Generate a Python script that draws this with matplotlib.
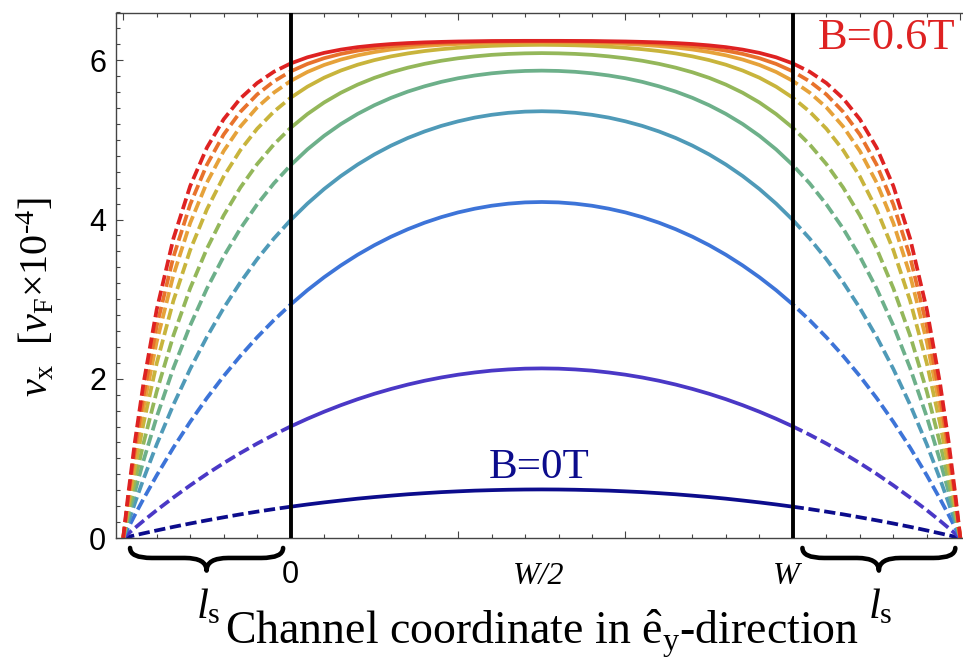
import matplotlib
matplotlib.use('Agg')
import matplotlib.pyplot as plt
import numpy as np
from matplotlib.path import Path
from matplotlib.patches import PathPatch
from matplotlib.ticker import MultipleLocator
import matplotlib.transforms as mtransforms

plt.rcParams['mathtext.fontset'] = 'custom'
plt.rcParams['mathtext.rm'] = 'Liberation Serif'
plt.rcParams['mathtext.it'] = 'Liberation Serif:italic'
plt.rcParams['mathtext.bf'] = 'Liberation Serif:bold'

# ---------------- data (channel width W = 3, slip length l_s = 1) ----------------
W = 3.0
ls = 1.0
# x positions in the slip (dashed) region left of the channel, and inside the channel up to W/2
x_edge = [-1.0, -0.97, -0.93, -0.88, -0.8, -0.7, -0.6, -0.5, -0.4, -0.3, -0.2, -0.1, 0.0]
x_channel = [0.0, 0.1, 0.2, 0.3, 0.4, 0.5, 0.6, 0.7, 0.8, 0.9, 1.0, 1.1, 1.2, 1.3, 1.4, 1.5]

# profiles (B = 0 ... 0.6 T), values in units of v_F x 1e-4; symmetric about W/2
edge_1 = [0, 0.015, 0.034, 0.058, 0.095, 0.140, 0.182, 0.222, 0.260, 0.297, 0.331, 0.363, 0.393]
chan_1 = [0.393, 0.421, 0.447, 0.471, 0.494, 0.514, 0.532, 0.549, 0.563, 0.576, 0.586, 0.595,
          0.601, 0.606, 0.609, 0.610]
edge_2 = [0, 0.055, 0.126, 0.214, 0.349, 0.509, 0.661, 0.805, 0.940, 1.067, 1.186, 1.297, 1.401]
chan_2 = [1.401, 1.497, 1.586, 1.668, 1.743, 1.811, 1.872, 1.927, 1.975, 2.016, 2.051, 2.079,
          2.102, 2.117, 2.127, 2.130]
edge_3 = [0, 0.127, 0.290, 0.487, 0.786, 1.136, 1.459, 1.758, 2.033, 2.287, 2.521, 2.736, 2.932]
chan_3 = [2.932, 3.112, 3.275, 3.423, 3.557, 3.677, 3.784, 3.878, 3.960, 4.030, 4.089, 4.136,
          4.173, 4.199, 4.215, 4.220]
edge_4 = [0, 0.192, 0.439, 0.734, 1.175, 1.674, 2.123, 2.526, 2.888, 3.211, 3.502, 3.761, 3.993]
chan_4 = [3.993, 4.199, 4.383, 4.546, 4.690, 4.817, 4.928, 5.024, 5.106, 5.176, 5.233, 5.280,
          5.315, 5.340, 5.355, 5.360]
edge_5 = [0, 0.256, 0.581, 0.963, 1.520, 2.135, 2.669, 3.133, 3.536, 3.886, 4.190, 4.454, 4.682]
chan_5 = [4.682, 4.880, 5.051, 5.199, 5.326, 5.435, 5.528, 5.607, 5.673, 5.729, 5.774, 5.809,
          5.836, 5.855, 5.866, 5.870]
edge_6 = [0, 0.319, 0.718, 1.179, 1.839, 2.544, 3.136, 3.634, 4.051, 4.402, 4.696, 4.943, 5.151]
chan_6 = [5.151, 5.324, 5.470, 5.592, 5.694, 5.779, 5.849, 5.907, 5.955, 5.994, 6.025, 6.049,
          6.068, 6.080, 6.087, 6.090]
edge_7 = [0, 0.392, 0.877, 1.427, 2.193, 2.981, 3.616, 4.128, 4.540, 4.872, 5.140, 5.355, 5.529]
chan_7 = [5.529, 5.668, 5.781, 5.871, 5.944, 6.002, 6.049, 6.086, 6.116, 6.139, 6.157, 6.171,
          6.181, 6.188, 6.192, 6.194]
edge_8 = [0, 0.452, 1.005, 1.623, 2.463, 3.302, 3.956, 4.464, 4.860, 5.168, 5.408, 5.594, 5.740]
chan_8 = [5.740, 5.853, 5.941, 6.009, 6.062, 6.103, 6.135, 6.160, 6.179, 6.194, 6.205, 6.213,
          6.219, 6.223, 6.225, 6.226]
edge_9 = [0, 0.499, 1.103, 1.770, 2.661, 3.531, 4.189, 4.689, 5.067, 5.353, 5.571, 5.735, 5.860]
chan_9 = [5.860, 5.954, 6.026, 6.080, 6.121, 6.152, 6.176, 6.193, 6.207, 6.217, 6.224, 6.230,
          6.233, 6.236, 6.237, 6.238]
edge_10 = [0, 0.550, 1.209, 1.926, 2.868, 3.762, 4.420, 4.903, 5.259, 5.521, 5.714, 5.856, 5.960]
chan_10 = [5.960, 6.037, 6.093, 6.134, 6.165, 6.187, 6.204, 6.216, 6.225, 6.231, 6.236, 6.239,
           6.242, 6.243, 6.244, 6.244]

edges = [edge_1, edge_2, edge_3, edge_4, edge_5, edge_6, edge_7, edge_8, edge_9, edge_10]
chans = [chan_1, chan_2, chan_3, chan_4, chan_5, chan_6, chan_7, chan_8, chan_9, chan_10]
colors = ['#0c0c8c', '#4a38c6', '#3d74d8', '#4f9ab8', '#6db08a', '#94b75a',
          '#c8b43c', '#e6a23a', '#e8722c', '#de2222']

y_ticks = [0, 2, 4, 6]
x_tick_labels = ['0', 'W/2', 'W']

# ---------------- figure ----------------
fig = plt.figure(figsize=(9.63, 6.62), dpi=100)
ax = fig.add_axes([116 / 963, 1 - 538 / 662, 1 - 116 / 963, (538 - 12.5) / 662])

xe = np.array(x_edge)
xc = np.array(x_channel)
dash = (0, (3.0, 1.25))
LW = 2.7
for ed, ch, col in zip(edges, chans, colors):
    ax.plot(xe, ed, color=col, lw=LW, ls=dash, dash_capstyle='butt')
    ax.plot(W - xe, ed, color=col, lw=LW, ls=dash, dash_capstyle='butt')
    xs = np.concatenate([xc, W - xc[::-1][1:]])
    ys = list(ch) + list(ch[::-1][1:])
    ax.plot(xs, ys, color=col, lw=LW, solid_capstyle='butt', solid_joinstyle='round')

ax.axvline(0, color='black', lw=2.8, zorder=5)
ax.axvline(W, color='black', lw=2.8, zorder=5)

ax.set_xlim(-1.043, 4.016)
ax.set_ylim(0, 6.6)

for s in ['left', 'top', 'bottom']:
    ax.spines[s].set_color('#444444')
    ax.spines[s].set_linewidth(1.0)
ax.spines['right'].set_visible(False)

ax.set_yticks(y_ticks)
ax.yaxis.set_minor_locator(MultipleLocator(0.2))
ax.xaxis.set_major_locator(MultipleLocator(1.0))
ax.xaxis.set_minor_locator(MultipleLocator(0.2))
ax.tick_params(which='both', direction='in', top=True, right=False, labelbottom=False,
               color='#444444', width=0.8)
ax.tick_params(which='major', length=5)
ax.tick_params(which='minor', length=2.6)
ax.tick_params(axis='y', which='major', labelsize=22, pad=7)
for lab in ax.get_yticklabels():
    lab.set_fontfamily('Liberation Sans')

trans = mtransforms.blended_transform_factory(ax.transData, ax.transAxes)
ax.text(0, -0.071, x_tick_labels[0], transform=trans, ha='center', va='center',
        fontsize=22, family='Liberation Sans')
ax.text(W / 2 - 0.02, -0.073, x_tick_labels[1], transform=trans, ha='center', va='center',
        fontsize=23, family='Liberation Serif', style='italic')
ax.text(W - 0.04, -0.073, x_tick_labels[2], transform=trans, ha='center', va='center',
        fontsize=23, family='Liberation Serif', style='italic')


def brace(x0, x1, ytop, ymid, ytip, h):
    xm = 0.5 * (x0 + x1)
    verts = [(x0, ytop), (x0, ymid), (x0 + h, ymid),
             (xm - h, ymid), (xm, ymid), (xm, ytip),
             (xm, ymid), (xm + h, ymid),
             (x1 - h, ymid), (x1, ymid), (x1, ytop)]
    codes = [Path.MOVETO, Path.CURVE3, Path.CURVE3,
             Path.LINETO, Path.CURVE3, Path.CURVE3,
             Path.CURVE3, Path.CURVE3,
             Path.LINETO, Path.CURVE3, Path.CURVE3]
    p = PathPatch(Path(verts, codes), facecolor='none', edgecolor='black', lw=3.3,
                  transform=trans, clip_on=False, capstyle='round', joinstyle='round')
    ax.add_patch(p)


brace(-0.959, -0.045, -0.019, -0.038, -0.062, 0.13)
brace(3.057, 3.970, -0.019, -0.038, -0.062, 0.13)
ax.text(-0.49, -0.13, r'$l_{\rm s}$', transform=trans, ha='center', va='center', fontsize=31)
ax.text(3.52, -0.13, r'$l_{\rm s}$', transform=trans, ha='center', va='center', fontsize=31)

ax.text(3.56, 6.28, 'B=0.6T', color='#de2222', fontsize=32, family='Liberation Serif',
        ha='center', va='center')
ax.text(1.485, 0.88, 'B=0T', color='#0c0c8c', fontsize=31, family='Liberation Serif',
        ha='center', va='center')

fig.text(542 / 963, 1 - 645 / 662, r'Channel coordinate in $\hat{\rm e}_{\rm y}$-direction',
         ha='center', va='baseline', fontsize=33, family='Liberation Serif')
fig.text(37 / 963, 1 - 297 / 662, r'$v_{\rm x}\ \ [v_{\rm F}{\times}10^{\text{-}4}]$',
         rotation=90, ha='center', va='center', fontsize=29)

fig.savefig('out.png', dpi=100)
